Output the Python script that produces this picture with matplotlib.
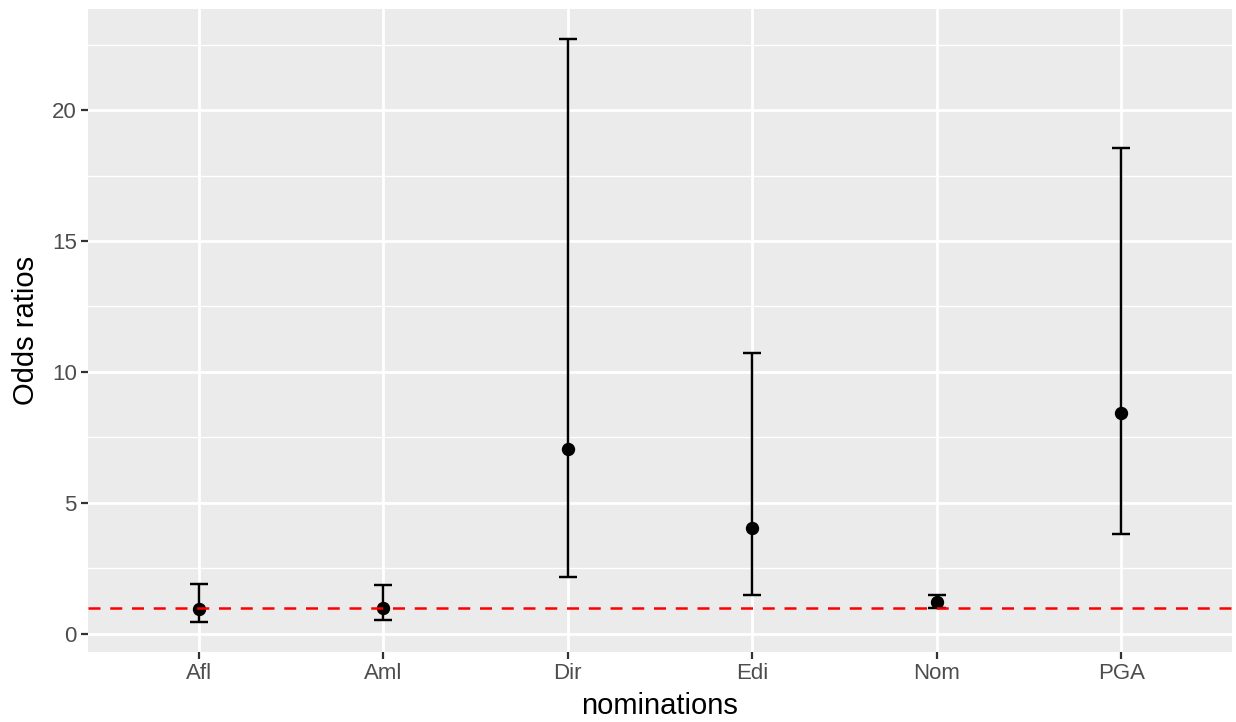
import matplotlib.pyplot as plt
import numpy as np

# 資料 (從圖上讀取的估計值)
nominations = ["Afl", "Aml", "Dir", "Edi", "Nom", "PGA"]
odds = [0.94, 1.00, 7.06, 4.05, 1.21, 8.44]
lower = [0.44, 0.52, 2.18, 1.49, 0.97, 3.82]
upper = [1.91, 1.88, 22.70, 10.73, 1.49, 18.55]
ref_line = 1.0

plt.rcParams['font.family'] = ['Liberation Sans', 'DejaVu Sans']

fig = plt.figure(figsize=(12.36, 7.22), dpi=100)
ax = fig.add_axes([88 / 1236, 1 - 652 / 722, (1232 - 88) / 1236, (652 - 9) / 722])
ax.set_facecolor('#EBEBEB')

x = np.arange(len(nominations))
odds_a = np.array(odds)
yerr = [odds_a - np.array(lower), np.array(upper) - odds_a]

# 格線
ax.set_yticks([0, 5, 10, 15, 20])
ax.set_yticks([2.5, 7.5, 12.5, 17.5, 22.5], minor=True)
ax.grid(which='major', color='white', linewidth=2.0)
ax.grid(which='minor', axis='y', color='white', linewidth=1.0)
ax.set_axisbelow(True)

ax.errorbar(x, odds, yerr=yerr, fmt='o', color='black', markersize=8.6,
            elinewidth=1.75, capsize=6.8, capthick=1.75, zorder=3)
ax.axhline(ref_line, color='#FF0000', linewidth=1.8, linestyle=(0, (4.8, 3.9)), zorder=4)

ax.set_xticks(x)
ax.set_xticklabels(nominations)
ax.set_xlim(-0.6, len(nominations) - 0.4)
ax.set_ylim(-0.695, 23.86)

for s in ax.spines.values():
    s.set_visible(False)
ax.tick_params(which='major', length=5, width=1.6, color='#333333',
               labelcolor='#4D4D4D', labelsize=16, pad=3)
ax.tick_params(which='minor', length=0)

ax.set_xlabel("nominations", fontsize=21, labelpad=6)
ax.set_ylabel("Odds ratios", fontsize=21, labelpad=9)

fig.savefig('out.png', dpi=100)
